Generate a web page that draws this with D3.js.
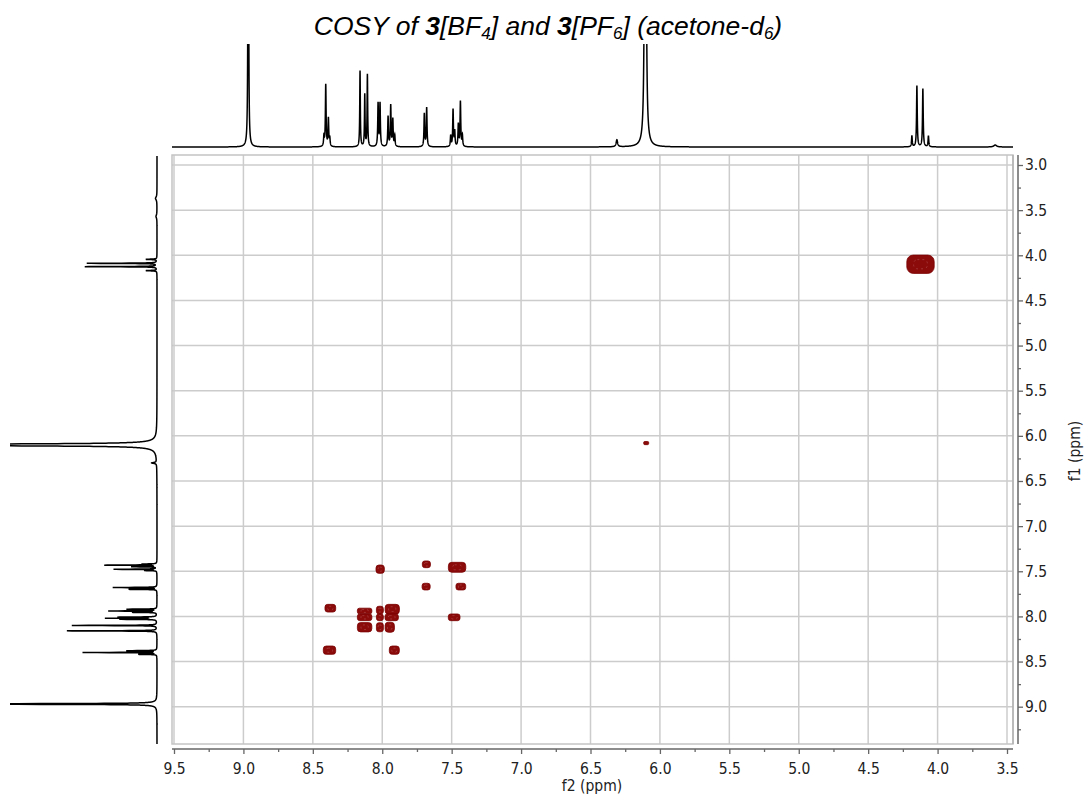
<!DOCTYPE html>
<html>
<head>
<meta charset="utf-8">
<script src="https://cdn.jsdelivr.net/npm/d3@7"></script>
<style>
  body { margin: 0; background: #fff; }
  text { font-family: "DejaVu Sans Condensed", "DejaVu Sans", sans-serif; }
</style>
</head>
<body>
<div id="chart"></div>
<script>
// ---- f2 projection (top trace): peak position (ppm), height, half width (ppm)
const topPpm    = [8.965, 8.420, 8.407, 8.388, 8.378, 8.160, 8.126, 8.107, 8.030, 8.016,
                   7.958, 7.939, 7.924, 7.910, 7.697, 7.680, 7.507, 7.490, 7.478, 7.452,
                   7.437, 7.423, 6.310, 6.105, 4.185, 4.149, 4.106, 4.066, 3.585];
const topHeight = [600, 10, 62, 28, 8, 76, 52, 72, 43, 43,
                   30, 41, 27, 11, 33, 39, 11, 37, 15, 22,
                   45, 11, 7, 3000, 11, 61, 58, 11, 2];
const topWidth  = [0.002, 0.003, 0.003, 0.003, 0.003, 0.0025, 0.0025, 0.0025, 0.003, 0.003,
                   0.003, 0.003, 0.003, 0.003, 0.003, 0.003, 0.003, 0.003, 0.003, 0.003,
                   0.003, 0.003, 0.006, 0.002, 0.003, 0.003, 0.003, 0.003, 0.012];

// ---- f1 projection (left trace)
const leftPpm    = [3.37, 3.57, 4.045, 4.089, 4.126, 4.170, 6.100, 6.300,
                    7.420, 7.432, 7.450, 7.478, 7.492, 7.680, 7.700,
                    7.920, 7.940, 7.955, 8.008, 8.020, 8.032, 8.100, 8.160,
                    8.380, 8.400, 8.420, 8.970];
const leftHeight = [1.5, 1, 11, 70, 72, 11, 3000, 5,
                    14, 52, 25, 43, 12, 44, 28,
                    30, 48, 24, 38, 50, 36, 85, 90,
                    30, 74, 18, 700];
const leftWidth  = [0.02, 0.02, 0.003, 0.002, 0.002, 0.003, 0.0025, 0.006,
                    0.002, 0.002, 0.002, 0.002, 0.002, 0.002, 0.002,
                    0.002, 0.002, 0.002, 0.002, 0.002, 0.002, 0.002, 0.002,
                    0.002, 0.002, 0.002, 0.002];

// ---- 2D cross peaks: f2 / f1 centre (ppm) and extent (ppm)
const crossF2 = [8.015, 7.682, 7.461, 7.684, 7.434, 8.374, 8.127, 8.127, 8.127, 8.017,
                 8.017, 8.017, 7.928, 7.932, 7.946, 7.482, 8.380, 7.913, 6.099, 4.123];
const crossF1 = [7.477, 7.423, 7.456, 7.670, 7.670, 7.909, 7.940, 8.010, 8.120, 7.930,
                 8.010, 8.120, 7.920, 8.010, 8.120, 8.010, 8.374, 8.374, 6.080, 4.099];
const crossW2 = [0.060, 0.058, 0.125, 0.058, 0.070, 0.077, 0.104, 0.104, 0.104, 0.050,
                 0.050, 0.050, 0.103, 0.096, 0.067, 0.084, 0.089, 0.072, 0.036, 0.197];
const crossW1 = [0.092, 0.074, 0.110, 0.074, 0.074, 0.085, 0.062, 0.074, 0.103, 0.085,
                 0.074, 0.100, 0.107, 0.074, 0.111, 0.074, 0.092, 0.092, 0.035, 0.203];

const xMajor = [9.5, 9.0, 8.5, 8.0, 7.5, 7.0, 6.5, 6.0, 5.5, 5.0, 4.5, 4.0, 3.5];
const xMinor = [9.25, 8.75, 8.25, 7.75, 7.25, 6.75, 6.25, 5.75, 5.25, 4.75, 4.25, 3.75];
const yMajor = [3.0, 3.5, 4.0, 4.5, 5.0, 5.5, 6.0, 6.5, 7.0, 7.5, 8.0, 8.5, 9.0];
const yMinor = [3.25, 3.75, 4.25, 4.75, 5.25, 5.75, 6.25, 6.75, 7.25, 7.75, 8.25, 8.75, 9.25];

// SIZES
const width = 1088, height = 797;
const plot = { left: 172, right: 1013, top: 155, bottom: 744 };

// SCALES (ppm axes run backwards)
const x = d3.scaleLinear().domain([9.5, 3.5]).range([174, 1007]);
const y = d3.scaleLinear().domain([3.0, 9.0]).range([165, 706.7]);
const topI = d3.scaleLinear().domain([0, 100]).range([147, 47]);
const leftI = d3.scaleLinear().domain([0, 100]).range([157, 57]);

const svg = d3.select("#chart").append("svg")
    .attr("width", width).attr("height", height);

const defs = svg.append("defs");
defs.append("clipPath").attr("id", "clipTop").append("rect")
    .attr("x", plot.left).attr("y", 44).attr("width", plot.right - plot.left).attr("height", 106);
defs.append("clipPath").attr("id", "clipLeft").append("rect")
    .attr("x", 10).attr("y", plot.top + 1).attr("width", 152).attr("height", plot.bottom - plot.top - 1);
defs.append("clipPath").attr("id", "clipPlot").append("rect")
    .attr("x", plot.left).attr("y", plot.top).attr("width", plot.right - plot.left).attr("height", plot.bottom - plot.top);

// LORENTZIAN SUM
function spectrum(ppms, heights, widths, from, to, step) {
    const pts = [];
    for (let p = from; p >= to; p -= step) {
        let v = 0;
        for (let i = 0; i < ppms.length; i++) {
            const g = widths[i], d = p - ppms[i];
            v += heights[i] * g * g / (d * d + g * g);
        }
        pts.push([p, v]);
    }
    return pts;
}

// GRID
const grid = svg.append("g");
grid.selectAll(".gx").data(xMajor).enter().append("line")
    .attr("x1", d => x(d)).attr("x2", d => x(d))
    .attr("y1", plot.top).attr("y2", plot.bottom)
    .attr("stroke", "#cccccc").attr("stroke-width", 1.5);
grid.selectAll(".gy").data(yMajor).enter().append("line")
    .attr("x1", plot.left).attr("x2", plot.right)
    .attr("y1", d => y(d)).attr("y2", d => y(d))
    .attr("stroke", "#cccccc").attr("stroke-width", 1.5);
svg.append("rect")
    .attr("x", plot.left).attr("y", plot.top)
    .attr("width", plot.right - plot.left).attr("height", plot.bottom - plot.top)
    .attr("fill", "none").attr("stroke", "#c4c4c4").attr("stroke-width", 1.5);
svg.append("line")
    .attr("x1", plot.right).attr("x2", plot.right).attr("y1", plot.top).attr("y2", plot.bottom)
    .attr("stroke", "#aaaaaa").attr("stroke-width", 1.2);

// CROSS PEAKS (filled contour blobs with a faint inner contour)
const peaks = d3.range(crossF2.length);
const px = i => x(crossF2[i] + crossW2[i] / 2);
const py = i => y(crossF1[i] - crossW1[i] / 2);
const pw = i => x(crossF2[i] - crossW2[i] / 2) - px(i);
const ph = i => y(crossF1[i] + crossW1[i] / 2) - py(i);
const gPeaks = svg.append("g").attr("clip-path", "url(#clipPlot)");
gPeaks.selectAll(".blob").data(peaks).enter().append("rect")
    .attr("x", px).attr("y", py).attr("width", pw).attr("height", ph)
    .attr("rx", i => Math.min(pw(i), ph(i)) * 0.35)
    .attr("fill", "#8b0a0a")
    .attr("stroke", "#7a0000").attr("stroke-width", 0.8);
gPeaks.selectAll(".ring").data(peaks.filter(i => pw(i) > 6)).enter().append("rect")
    .attr("x", i => px(i) + pw(i) * 0.25).attr("y", i => py(i) + ph(i) * 0.25)
    .attr("width", i => pw(i) * 0.5).attr("height", i => ph(i) * 0.5)
    .attr("rx", i => Math.min(pw(i), ph(i)) * 0.2)
    .attr("fill", "none").attr("stroke", "#c07070").attr("stroke-width", 0.6)
    .attr("stroke-dasharray", "2,3").attr("opacity", 0.7);

// TOP TRACE
const topData = spectrum(topPpm, topHeight, topWidth, 9.52, 3.45, 0.0005);
svg.append("path")
    .datum(topData)
    .attr("clip-path", "url(#clipTop)")
    .attr("fill", "none").attr("stroke", "#000").attr("stroke-width", 1.5)
    .attr("d", d3.line().x(d => x(d[0])).y(d => topI(Math.min(d[1], 120))));

// LEFT TRACE
const leftData = spectrum(leftPpm, leftHeight, leftWidth, 9.42, 2.9, 0.0005);
svg.append("path")
    .datum(leftData)
    .attr("clip-path", "url(#clipLeft)")
    .attr("fill", "none").attr("stroke", "#000").attr("stroke-width", 1.5)
    .attr("d", d3.line().y(d => y(d[0])).x(d => leftI(Math.min(d[1], 170))));

// X AXIS
const axisY = 749;
svg.append("line").attr("x1", plot.left).attr("x2", plot.right)
    .attr("y1", axisY).attr("y2", axisY).attr("stroke", "#666").attr("stroke-width", 1.5);
const gx = svg.append("g").attr("transform", "translate(0," + axisY + ")")
    .call(d3.axisBottom(x).tickValues(xMajor).tickSize(5).tickPadding(9).tickFormat(d3.format(".1f")));
gx.select(".domain").remove();
gx.selectAll("line").attr("stroke", "#666").attr("stroke-width", 1.3);
gx.selectAll("text").attr("fill", "#222").style("font-size", "15.5px");
const gxm = svg.append("g").attr("transform", "translate(0," + axisY + ")")
    .call(d3.axisBottom(x).tickValues(xMinor).tickSize(3).tickFormat(""));
gxm.select(".domain").remove();
gxm.selectAll("line").attr("stroke", "#666").attr("stroke-width", 1.3);

// Y AXIS
const axisX = 1018;
svg.append("line").attr("x1", axisX).attr("x2", axisX)
    .attr("y1", plot.top).attr("y2", plot.bottom).attr("stroke", "#666").attr("stroke-width", 1.5);
const gy = svg.append("g").attr("transform", "translate(" + axisX + ",0)")
    .call(d3.axisRight(y).tickValues(yMajor).tickSize(5).tickPadding(2).tickFormat(d3.format(".1f")));
gy.select(".domain").remove();
gy.selectAll("line").attr("stroke", "#666").attr("stroke-width", 1.3);
gy.selectAll("text").attr("fill", "#222").style("font-size", "15.5px");
const gym = svg.append("g").attr("transform", "translate(" + axisX + ",0)")
    .call(d3.axisRight(y).tickValues(yMinor).tickSize(3).tickFormat(""));
gym.select(".domain").remove();
gym.selectAll("line").attr("stroke", "#666").attr("stroke-width", 1.3);

// AXIS TITLES
svg.append("text").attr("x", 592).attr("y", 791).attr("text-anchor", "middle")
    .attr("fill", "#222").style("font-size", "15.5px").text("f2 (ppm)");
svg.append("text").attr("transform", "translate(1080,451) rotate(-90)").attr("text-anchor", "middle")
    .attr("fill", "#222").style("font-size", "15.5px").text("f1 (ppm)");

// TITLE
const title = svg.append("text").attr("x", 548).attr("y", 35).attr("text-anchor", "middle")
    .style("font-family", "'Liberation Sans', Arial, sans-serif")
    .style("font-size", "26.5px").style("font-style", "italic").attr("fill", "#000");
const parts = [
    ["COSY of ", ""], ["3", "b"], ["[BF", ""], ["4", "s"], ["] and ", ""], ["3", "b"],
    ["[PF", ""], ["6", "s"], ["] (acetone-d", ""], ["6", "s"], [")", ""]
];
let shifted = false;
parts.forEach(p => {
    const t = title.append("tspan").text(p[0]);
    if (p[1] === "b") t.style("font-weight", "bold");
    if (p[1] === "s") { t.style("font-size", "17px").attr("dy", 4); shifted = true; }
    else if (shifted) { t.attr("dy", -4); shifted = false; }
});
</script>
</body>
</html>
